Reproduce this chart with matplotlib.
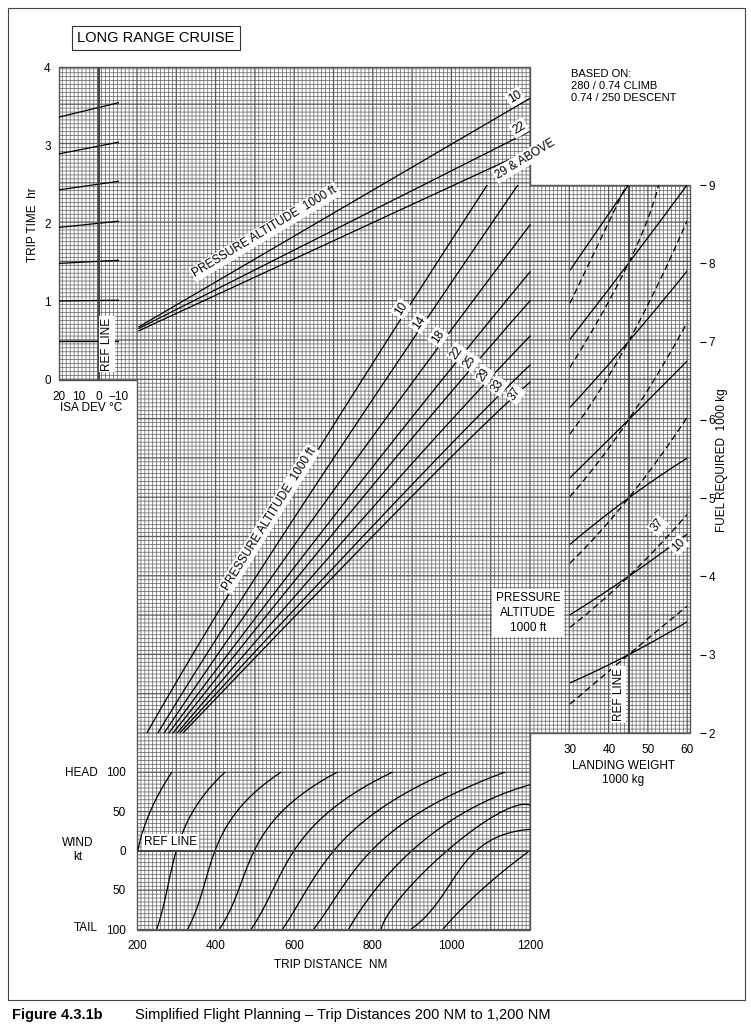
import numpy as np
import matplotlib
matplotlib.use("Agg")
import matplotlib.pyplot as plt
from matplotlib.collections import LineCollection
from matplotlib.patches import Polygon, Rectangle

plt.rcParams['font.family'] = ['Liberation Sans', 'DejaVu Sans']
FS = 8.5

# ---------------- data ----------------
isa_x = [20, -10]
isa_lines = [[3.36, 3.545], [2.89, 3.04], [2.43, 2.54], [1.95, 2.03],
             [1.49, 1.53], [1.01, 1.02], [0.50, 0.50]]
isa_ticks = [20, 10, 0, -10]

time_alt_labels = ["10", "22", "29 & ABOVE"]
time_dist = [205, 1200]
time_vals = [[0.68, 3.60], [0.66, 3.18], [0.63, 2.94]]

fuel_alts = ["10", "14", "18", "22", "25", "29", "33", "37"]
fuel_dist = [[225, 584, 1091], [253, 633, 1169], [269, 686, 1200], [281, 737, 1200],
             [292, 773, 1200], [302, 821, 1200], [309, 867, 1200], [317, 895, 1200]]
fuel_vals = [[2, 5, 9], [2, 5, 9], [2, 5, 8.49], [2, 5, 7.89],
             [2, 5, 7.52], [2, 5, 7.07], [2, 5, 6.70], [2, 5, 6.48]]

lw_solid_w = [[30, 45, 60]] * 6 + [[30, 45]]
lw_solid_f = [[2.64, 3, 3.42], [3.51, 4, 4.54], [4.41, 5, 5.51], [5.26, 6, 6.75],
              [6.16, 7, 7.90], [7.03, 8, 9.0], [7.91, 9]]
lw_dash_w = [[30, 45, 60]] * 5 + [[30, 45, 52.7], [30, 44.5]]
lw_dash_f = [[2.37, 3, 3.62], [3.35, 4, 4.79], [4.17, 5, 6.03], [5.02, 6, 7.24],
             [5.82, 7, 8.54], [6.67, 8, 9.0], [7.49, 9]]
lw_ticks = [30, 40, 50, 60]
fuel_ticks = [2, 3, 4, 5, 6, 7, 8, 9]

wind_w = [[0, 50, 100], [-100, -50, 0, 50, 100], [-100, -50, 0, 50, 100],
          [-100, -50, 0, 50, 100], [-100, -50, 0, 50, 100], [-100, -50, 0, 50, 100],
          [-100, -50, 0, 50, 100], [-100, -50, 0, 50, 84], [-100, -50, 0, 50, 56],
          [-100, -50, 0, 27], [-100, -50, 0]]
wind_d = [[202, 234, 289], [251, 274, 304, 340, 425], [330, 364, 404, 451, 568],
          [411, 455, 504, 566, 711], [491, 545, 601, 689, 851], [570, 634, 698, 813, 991],
          [649, 722, 791, 928, 1136], [736, 817, 885, 1047, 1200], [817, 902, 970, 1140, 1200],
          [898, 987, 1064, 1200], [979, 1077, 1200]]
wind_ticks = [100, 50, 0, -50, -100]
wind_ticklabels = ["100", "50", "0", "50", "100"]
dist_ticks = [200, 400, 600, 800, 1000, 1200]

# ---------------- figure ----------------
W, H = 751, 1028
fig = plt.figure(figsize=(W / 100, H / 100), dpi=100)
fig.patch.set_facecolor('white')

def rect(x0, y0, x1, y1):
    return [x0 / W, 1 - y1 / H, (x1 - x0) / W, (y1 - y0) / H]

def smooth(x, y):
    """smooth drawing through the read points (param = y)"""
    x = np.asarray(x, float); y = np.asarray(y, float)
    if len(x) < 3:
        return x, y
    deg = min(len(x) - 1, 3)
    t = np.linspace(0, 1, len(x))
    tt = np.linspace(0, 1, 80)
    px = np.polyfit(t, x, deg); py = np.polyfit(t, y, deg)
    return np.polyval(px, tt), np.polyval(py, tt)

bg = fig.add_axes([0, 0, 1, 1])
bg.set_xlim(0, W); bg.set_ylim(H, 0); bg.axis('off')
bg.add_patch(Rectangle((8, 8), 737, 992, fill=False, lw=0.8, ec='#444'))
region = [(59, 67), (530, 67), (530, 185), (690, 185), (690, 733), (530, 733),
          (530, 930), (137, 930), (137, 380), (59, 380)]
clip = Polygon(region, closed=True, fill=False, lw=0, transform=bg.transData)
bg.add_patch(clip)
step = 3.93
minor, major = [], []
for i in range(-25, 150):
    x = 137 + i * step
    if 55 <= x <= 692:
        (major if i % 10 == 0 else minor).append([(x, 60), (x, 935)])
for j in range(-185, 60):
    y = 733 + j * step
    if 62 <= y <= 935:
        (major if j % 10 == 0 else minor).append([(55, y), (695, y)])
for segs, lw in ((minor, 0.5), (major, 0.9)):
    lc = LineCollection(segs, colors='#5a5a5a', linewidths=lw, antialiased=True)
    lc.set_snap(False)
    bg.add_collection(lc)
    lc.set_clip_path(clip)
bg.add_patch(Polygon(region, closed=True, fill=False, lw=1.0, ec='#555'))

def data_ax(r, xlim, ylim):
    a = fig.add_axes(rect(*r))
    a.set_xlim(*xlim); a.set_ylim(*ylim)
    a.patch.set_alpha(0)
    for s in a.spines.values():
        s.set_visible(False)
    a.set_xticks([]); a.set_yticks([])
    return a

box = dict(boxstyle='square,pad=0.15', fc='white', ec='none')

def ptext(px, py, s, **kw):
    kw.setdefault('fontsize', FS)
    fig.text(px / W, 1 - py / H, s, **kw)

# ISA panel
ax_isa = data_ax((59, 67, 119, 380), (20, -10), (0, 4))
for v in isa_lines:
    ax_isa.plot(isa_x, v, color='k', lw=0.9)
ax_isa.axvline(0, color='#444', lw=1.4)
ax_isa.set_yticks([0, 1, 2, 3, 4])
ax_isa.tick_params(axis='y', length=0, labelsize=FS, pad=6)
ax_isa.set_xticks(isa_ticks)
ax_isa.tick_params(axis='x', length=0, labelsize=FS, pad=8)
ax_isa.text(-4, 0.12, "REF LINE", rotation=90, fontsize=FS, ha='center', va='bottom', bbox=box)
ptext(60, 408, "ISA DEV °C", ha='left', va='center')
ptext(33, 225, "TRIP TIME  hr", rotation=90, ha='center', va='center')

# time panel
ax_t = data_ax((137, 67, 530, 380), (200, 1200), (0, 4))
for v in time_vals:
    ax_t.plot(time_dist, v, color='k', lw=0.9)
ptext(515, 97, "10", rotation=31, ha='center', va='center', bbox=box)
ptext(519, 128, "22", rotation=31, ha='center', va='center', bbox=box)
ptext(525, 159, "29 & ABOVE", rotation=31, ha='center', va='center', bbox=box)
ptext(265, 232, "PRESSURE ALTITUDE  1000 ft", rotation=31, ha='center', va='center', bbox=box)

# fuel panel
ax_f = data_ax((137, 185, 690, 733), (200, 1607), (2, 9))
for d, f in zip(fuel_dist, fuel_vals):
    ax_f.plot(*smooth(d, f), color='k', lw=0.9)
lbl_pos = [(401, 309), (419, 323), (438, 337), (457, 353), (470, 362), (484, 375), (498, 386), (515, 394)]
for name, (px, py) in zip(fuel_alts, lbl_pos):
    ptext(px, py, name, rotation=56, ha='center', va='center', bbox=box)
ptext(269, 519, "PRESSURE ALTITUDE  1000 ft", rotation=58, ha='center', va='center', bbox=box)
ptext(528, 613, "PRESSURE\nALTITUDE\n1000 ft", ha='center', va='center', linespacing=1.3,
      bbox=dict(boxstyle='square,pad=0.3', fc='white', ec='none'))
ax_fr = data_ax((690, 185, 700, 733), (0, 1), (2, 9))
ax_fr.yaxis.tick_right()
ax_fr.set_yticks(fuel_ticks)
ax_fr.tick_params(axis='y', length=4, labelsize=FS, pad=2, right=True, left=False)
ptext(722, 460, "FUEL REQUIRED  1000 kg", rotation=90, ha='center', va='center')

# landing weight panel
ax_lw = data_ax((570, 185, 687, 733), (30, 60), (2, 9))
for w, f in zip(lw_solid_w, lw_solid_f):
    ax_lw.plot(*smooth(w, f), color='k', lw=0.9)
for w, f in zip(lw_dash_w, lw_dash_f):
    ax_lw.plot(*smooth(w, f), color='k', lw=0.9, ls=(0, (5, 3)))
ax_lw.axvline(45, color='#444', lw=1.4)
ax_lw.set_xticks(lw_ticks)
ax_lw.tick_params(axis='x', length=0, labelsize=FS, pad=8)
ax_lw.text(44, 2.15, "REF LINE", rotation=90, fontsize=FS, ha='right', va='bottom', bbox=box)
ax_lw.text(52.5, 4.65, "37", rotation=50, fontsize=FS, ha='center', va='center', bbox=box)
ax_lw.text(57.8, 4.4, "10", rotation=45, fontsize=FS, ha='center', va='center', bbox=box)
ptext(623, 773, "LANDING WEIGHT\n1000 kg", ha='center', va='center', linespacing=1.2)

# wind panel
ax_w = data_ax((137, 772, 530, 929), (200, 1200), (-100, 100))
for w, d in zip(wind_w, wind_d):
    ax_w.plot(*smooth(d, w), color='k', lw=0.9)
ax_w.axhline(0, color='#444', lw=1.4)
ax_w.set_yticks(wind_ticks)
ax_w.set_yticklabels(wind_ticklabels)
ax_w.tick_params(axis='y', length=0, labelsize=FS, pad=8)
ax_w.set_xticks(dist_ticks)
ax_w.tick_params(axis='x', length=0, labelsize=FS, pad=8)
ax_w.text(218, 11, "REF LINE", fontsize=FS, ha='left', va='center', bbox=box)
ptext(98, 773, "HEAD", ha='right', va='center')
ptext(78, 850, "WIND\nkt", ha='center', va='center', linespacing=1.2)
ptext(98, 928, "TAIL", ha='right', va='center')
ptext(331, 965, "TRIP DISTANCE  NM", ha='center', va='center')

# title & notes
ptext(156, 38, "LONG RANGE CRUISE", fontsize=10.5, ha='center', va='center',
      bbox=dict(boxstyle='square,pad=0.35', fc='white', ec='#333', lw=0.8))
ptext(571, 86, "BASED ON:\n280 / 0.74 CLIMB\n0.74 / 250 DESCENT", fontsize=8,
      ha='left', va='center', linespacing=1.2,
      bbox=dict(boxstyle='square,pad=0.2', fc='white', ec='none'))
ptext(12, 1015, "Figure 4.3.1b", fontsize=10.5, fontweight='bold', ha='left', va='center')
ptext(135, 1015, "Simplified Flight Planning \u2013 Trip Distances 200 NM to 1,200 NM",
      fontsize=10.5, ha='left', va='center')

fig.savefig("out.png", dpi=100, facecolor='white')
